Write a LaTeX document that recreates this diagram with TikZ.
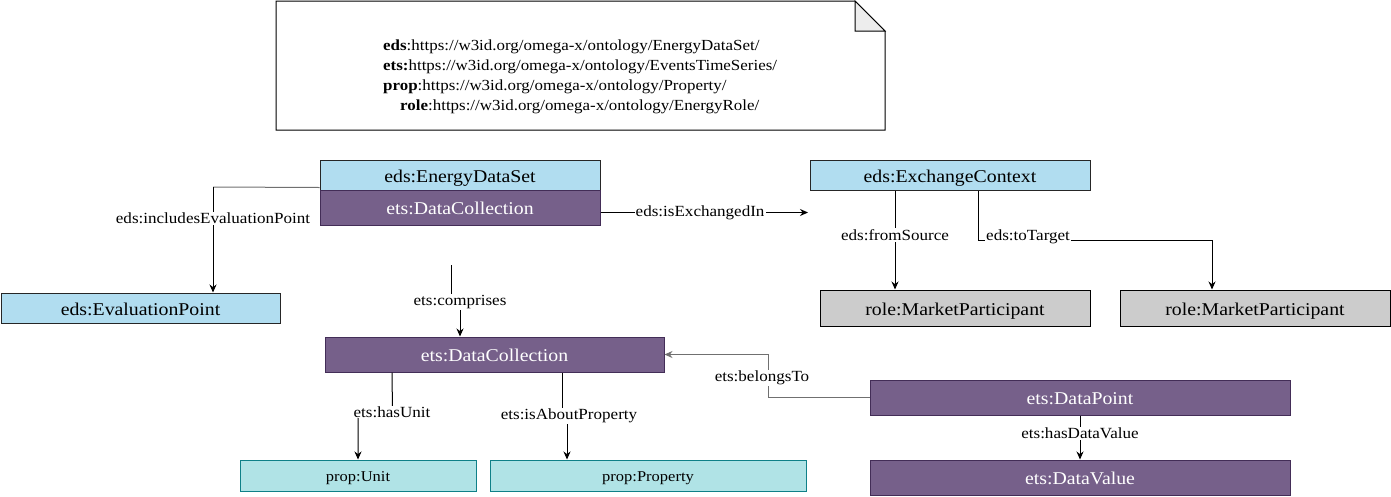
\documentclass[tikz,border=0pt]{standalone}
\usepackage{fontspec}
\setmainfont{Liberation Serif}[FakeStretch=1.1]
\usetikzlibrary{arrows.meta}
\definecolor{lblue}{HTML}{B1DDF0}
\definecolor{purp}{HTML}{76608A}
\definecolor{purpd}{HTML}{432D57}
\definecolor{lgray}{HTML}{CCCCCC}
\definecolor{teal1}{HTML}{B0E3E6}
\definecolor{teal2}{HTML}{0E8088}
\definecolor{edgegray}{HTML}{707070}
\begin{document}
\begin{tikzpicture}[x=1pt,y=-1pt,
  box/.style={draw, line width=1pt, inner sep=0pt, text depth=0pt, text height=14pt, font=\fontsize{18}{20}\selectfont},
  bluebox/.style={box, fill=lblue, draw=black!85},
  purpbox/.style={box, fill=purp, draw=purpd, text=white},
  graybox/.style={box, fill=lgray, draw=black},
  tealbox/.style={box, fill=teal1, draw=teal2, text height=12pt, font=\fontsize{15}{17}\selectfont},
  lbl/.style={fill=white, inner sep=1pt, font=\fontsize{15.5}{17}\selectfont},
  conn/.style={line width=1pt, line join=miter},
  arr/.style={conn, -{Stealth[length=8pt,width=7pt]}},
  pfx/.style={anchor=base west, inner sep=0pt, font=\fontsize{15.4}{17}\selectfont}
]
\useasboundingbox (0,0) rectangle (1391,496);

% prefix note
\draw[line width=1pt, fill=white] (276,1) -- (855,1) -- (885,31) -- (885,130) -- (276,130) -- cycle;
\draw[line width=1pt, fill=black!7] (855,1) -- (855,31) -- (885,31) -- cycle;
\node[pfx] (p1) at (383,50) {\textbf{eds}:https://w3id.org/omega-x/ontology/EnergyDataSet/};
\node[pfx] (p2) at (383,70) {\textbf{ets:}https://w3id.org/omega-x/ontology/EventsTimeSeries/};
\node[pfx] (p3) at (383,90) {\textbf{prop}:https://w3id.org/omega-x/ontology/Property/};
\node[pfx] (p4) at (400,110) {\textbf{role}:https://w3id.org/omega-x/ontology/EnergyRole/};

% nodes
\node[bluebox, minimum width=280pt, minimum height=30pt] (eds) at (460,175) {eds:EnergyDataSet};
\node[purpbox, minimum width=280pt, minimum height=35pt] (dc1) at (460,207.5) {ets:DataCollection};
\node[bluebox, minimum width=279pt, minimum height=30pt] (evp) at (140.5,308) {eds:EvaluationPoint};
\node[bluebox, minimum width=280pt, minimum height=30pt] (exc) at (950,175) {eds:ExchangeContext};
\node[graybox, minimum width=270pt, minimum height=36pt] (mp1) at (955,308) {role:MarketParticipant};
\node[graybox, minimum width=270pt, minimum height=36pt] (mp2) at (1255,308) {role:MarketParticipant};
\node[purpbox, minimum width=339pt, minimum height=35pt] (dc2) at (494.5,354.5) {ets:DataCollection};
\node[tealbox, minimum width=236pt, minimum height=31pt] (unit) at (358,475.5) {prop:Unit};
\node[tealbox, minimum width=316pt, minimum height=31pt] (prop) at (648,475.5) {prop:Property};
\node[purpbox, minimum width=420pt, minimum height=35pt] (dp) at (1080,397.5) {ets:DataPoint};
\node[purpbox, minimum width=420pt, minimum height=35pt] (dv) at (1080,477.5) {ets:DataValue};

% includesEvaluationPoint
\coordinate (k1) at (213,187);
\draw[conn, edgegray] ([yshift=3pt]eds.south west) -- (k1);
\draw[arr] (k1) -- ([xshift=72.5pt]evp.north) node[lbl, pos=0.3] {eds:includesEvaluationPoint};

% isExchangedIn
\coordinate (x1) at (808,212.5);
\draw[arr] ([yshift=-5pt]dc1.east) -- (x1) node[lbl, pos=0.48] {eds:isExchangedIn};

% fromSource
\draw[arr] ([xshift=-55pt]exc.south) -- ([xshift=-60pt]mp1.north) node[lbl, pos=0.45] {eds:fromSource};

% toTarget
\draw[arr] ([xshift=28pt]exc.south) |- (1212,240) -- ([xshift=-43pt]mp2.north);
\node[lbl, anchor=west] (ttl) at (985,237) {eds:toTarget};

% comprises
\coordinate (c0) at (451,265);
\draw[arr] (c0) -- (451,302) -- (460,302) -- ([xshift=-34.5pt]dc2.north);
\node[lbl] (cl) at (460,302) {ets:comprises};

% hasUnit
\draw[arr] ([xshift=-102.5pt]dc2.south) -- (392.5,412) -- (358,412) -- (unit.north);
\node[lbl] (hul) at (392,412) {ets:hasUnit};

% isAboutProperty
\draw[arr] ([xshift=67.5pt]dc2.south) -- (562,416) -- (567,416) -- ([xshift=-81pt]prop.north);
\node[lbl] (ipl) at (569,416) {ets:isAboutProperty};

% belongsTo
\draw[arr, edgegray] (dp.west) -- (768,397.5) -- (768,354.5) -- (dc2.east);
\node[lbl] (btl) at (762,378) {ets:belongsTo};

% hasDataValue
\draw[arr] (dp.south) -- (dv.north) node[lbl, pos=0.4] {ets:hasDataValue};
\end{tikzpicture}
\end{document}
